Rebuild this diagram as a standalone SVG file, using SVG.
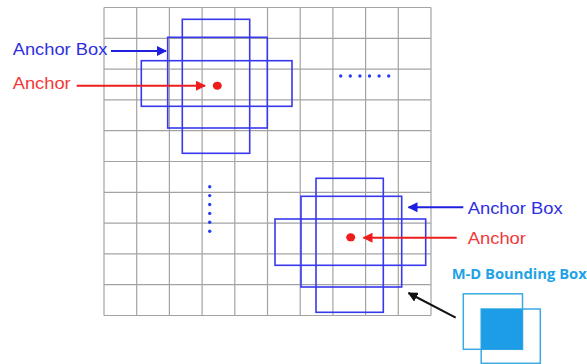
<svg xmlns="http://www.w3.org/2000/svg" width="587" height="364" viewBox="0 0 587 364">
  <style>
    .grid line { stroke: #a3a3a3; stroke-width: 1.2; }
    .box { fill: none; stroke: #3838ee; stroke-width: 1.6; }
    .dot { fill: #ee1c1c; }
    .vdot { fill: #2a3ff0; }
    .lbl { font-family: "Liberation Sans", Arial, sans-serif; font-size: 17px; }
    .blue { fill: #2f2fe0; }
    .red { fill: #f03a3a; }
    .md { font-family: "Open Sans", "Liberation Sans", sans-serif; font-weight: bold; font-size: 14px; fill: #1ea3e6; }
    .mdbox { fill: none; stroke: #3aa9e4; stroke-width: 1.5; }
  </style>
  <defs>
    <marker id="hb" viewBox="0 0 10 10" refX="9" refY="5" markerWidth="5" markerHeight="5" orient="auto" markerUnits="strokeWidth">
      <path d="M0,0 L10,5 L0,10 z" fill="#1f1fe0"/>
    </marker>
    <marker id="hr" viewBox="0 0 10 10" refX="9" refY="5" markerWidth="5" markerHeight="5" orient="auto" markerUnits="strokeWidth">
      <path d="M0,0 L10,5 L0,10 z" fill="#ee1c1c"/>
    </marker>
    <marker id="hk" viewBox="0 0 10 10" refX="9" refY="5" markerWidth="5" markerHeight="5" orient="auto" markerUnits="strokeWidth">
      <path d="M0,0 L10,5 L0,10 z" fill="#111"/>
    </marker>
  </defs>

  <rect width="587" height="364" fill="#fff"/>

  <!-- 10 x 10 feature map grid -->
  <g id="grid" class="grid">
    <line x1="104" y1="7.5" x2="104" y2="315.5"/>
    <line x1="136.7" y1="7.5" x2="136.7" y2="315.5"/>
    <line x1="169.4" y1="7.5" x2="169.4" y2="315.5"/>
    <line x1="202.1" y1="7.5" x2="202.1" y2="315.5"/>
    <line x1="234.8" y1="7.5" x2="234.8" y2="315.5"/>
    <line x1="267.5" y1="7.5" x2="267.5" y2="315.5"/>
    <line x1="300.2" y1="7.5" x2="300.2" y2="315.5"/>
    <line x1="332.9" y1="7.5" x2="332.9" y2="315.5"/>
    <line x1="365.6" y1="7.5" x2="365.6" y2="315.5"/>
    <line x1="398.3" y1="7.5" x2="398.3" y2="315.5"/>
    <line x1="431" y1="7.5" x2="431" y2="315.5"/>
    <line x1="104" y1="7.5" x2="431" y2="7.5"/>
    <line x1="104" y1="38.3" x2="431" y2="38.3"/>
    <line x1="104" y1="69.1" x2="431" y2="69.1"/>
    <line x1="104" y1="99.9" x2="431" y2="99.9"/>
    <line x1="104" y1="130.7" x2="431" y2="130.7"/>
    <line x1="104" y1="161.5" x2="431" y2="161.5"/>
    <line x1="104" y1="192.3" x2="431" y2="192.3"/>
    <line x1="104" y1="223.1" x2="431" y2="223.1"/>
    <line x1="104" y1="253.9" x2="431" y2="253.9"/>
    <line x1="104" y1="284.7" x2="431" y2="284.7"/>
    <line x1="104" y1="315.5" x2="431" y2="315.5"/>
  </g>

  <!-- anchor boxes around the upper-left anchor -->
  <g id="cluster-a">
    <rect class="box" x="182.3" y="19.3" width="67.4" height="134"/>
    <rect class="box" x="167.7" y="37.3" width="99.6" height="90.7"/>
    <rect class="box" x="141.3" y="60.7" width="150.7" height="45.6"/>
    <ellipse class="dot" cx="217.3" cy="85.7" rx="4.5" ry="4"/>
  </g>

  <!-- anchor boxes around the lower-right anchor -->
  <g id="cluster-b">
    <rect class="box" x="316" y="178.3" width="67.3" height="134"/>
    <rect class="box" x="301" y="196.3" width="100.7" height="90.7"/>
    <rect class="box" x="275" y="219" width="150.7" height="46.3"/>
    <ellipse class="dot" cx="350.7" cy="237.3" rx="4.5" ry="4"/>
  </g>

  <!-- ellipsis dots -->
  <g id="dots-h" class="vdot">
    <circle cx="340.7" cy="76" r="1.7"/>
    <circle cx="350.3" cy="76" r="1.7"/>
    <circle cx="359.9" cy="76" r="1.7"/>
    <circle cx="369.5" cy="76" r="1.7"/>
    <circle cx="379.1" cy="76" r="1.7"/>
    <circle cx="388.7" cy="76" r="1.7"/>
  </g>
  <g id="dots-v" class="vdot">
    <circle cx="209.7" cy="186.7" r="1.7"/>
    <circle cx="209.7" cy="195.6" r="1.7"/>
    <circle cx="209.7" cy="204.5" r="1.7"/>
    <circle cx="209.7" cy="213.4" r="1.7"/>
    <circle cx="209.7" cy="222.3" r="1.7"/>
    <circle cx="209.7" cy="231.2" r="1.7"/>
  </g>

  <!-- labels -->
  <g id="label-box-a">
    <text class="lbl blue" x="12.7" y="55" textLength="94.6" lengthAdjust="spacingAndGlyphs">Anchor Box</text>
  </g>
  <g id="label-anchor-a">
    <text class="lbl red" x="12.7" y="89.3" textLength="58" lengthAdjust="spacingAndGlyphs">Anchor</text>
  </g>
  <g id="label-box-b">
    <text class="lbl blue" x="467.7" y="213.5" textLength="95" lengthAdjust="spacingAndGlyphs">Anchor Box</text>
  </g>
  <g id="label-anchor-b">
    <text class="lbl red" x="467.7" y="243.5" textLength="58.3" lengthAdjust="spacingAndGlyphs">Anchor</text>
  </g>

  <!-- multi-directional bounding box legend -->
  <g id="md-box">
    <text class="md" x="451.7" y="278.5" textLength="135" lengthAdjust="spacingAndGlyphs">M-D Bounding Box</text>
    <rect class="mdbox" x="463.3" y="293.8" width="59.2" height="55.5"/>
    <rect class="mdbox" x="481.2" y="309" width="59.1" height="54.3"/>
    <rect x="481.2" y="309" width="41.3" height="40.3" fill="#1d9de6"/>
  </g>

  <!-- connectors -->
  <g id="connectors" fill="none">
    <line x1="111" y1="51" x2="166" y2="51" stroke="#1f1fe0" stroke-width="2" marker-end="url(#hb)"/>
    <line x1="76.7" y1="85.7" x2="205" y2="85.7" stroke="#ee1c1c" stroke-width="2" marker-end="url(#hr)"/>
    <line x1="463.3" y1="207.3" x2="408.5" y2="207.3" stroke="#1f1fe0" stroke-width="2" marker-end="url(#hb)"/>
    <line x1="456.7" y1="237.7" x2="363.5" y2="237.7" stroke="#ee1c1c" stroke-width="2" marker-end="url(#hr)"/>
    <line x1="455.7" y1="317.7" x2="408.5" y2="293" stroke="#111" stroke-width="2" marker-end="url(#hk)"/>
  </g>
</svg>
